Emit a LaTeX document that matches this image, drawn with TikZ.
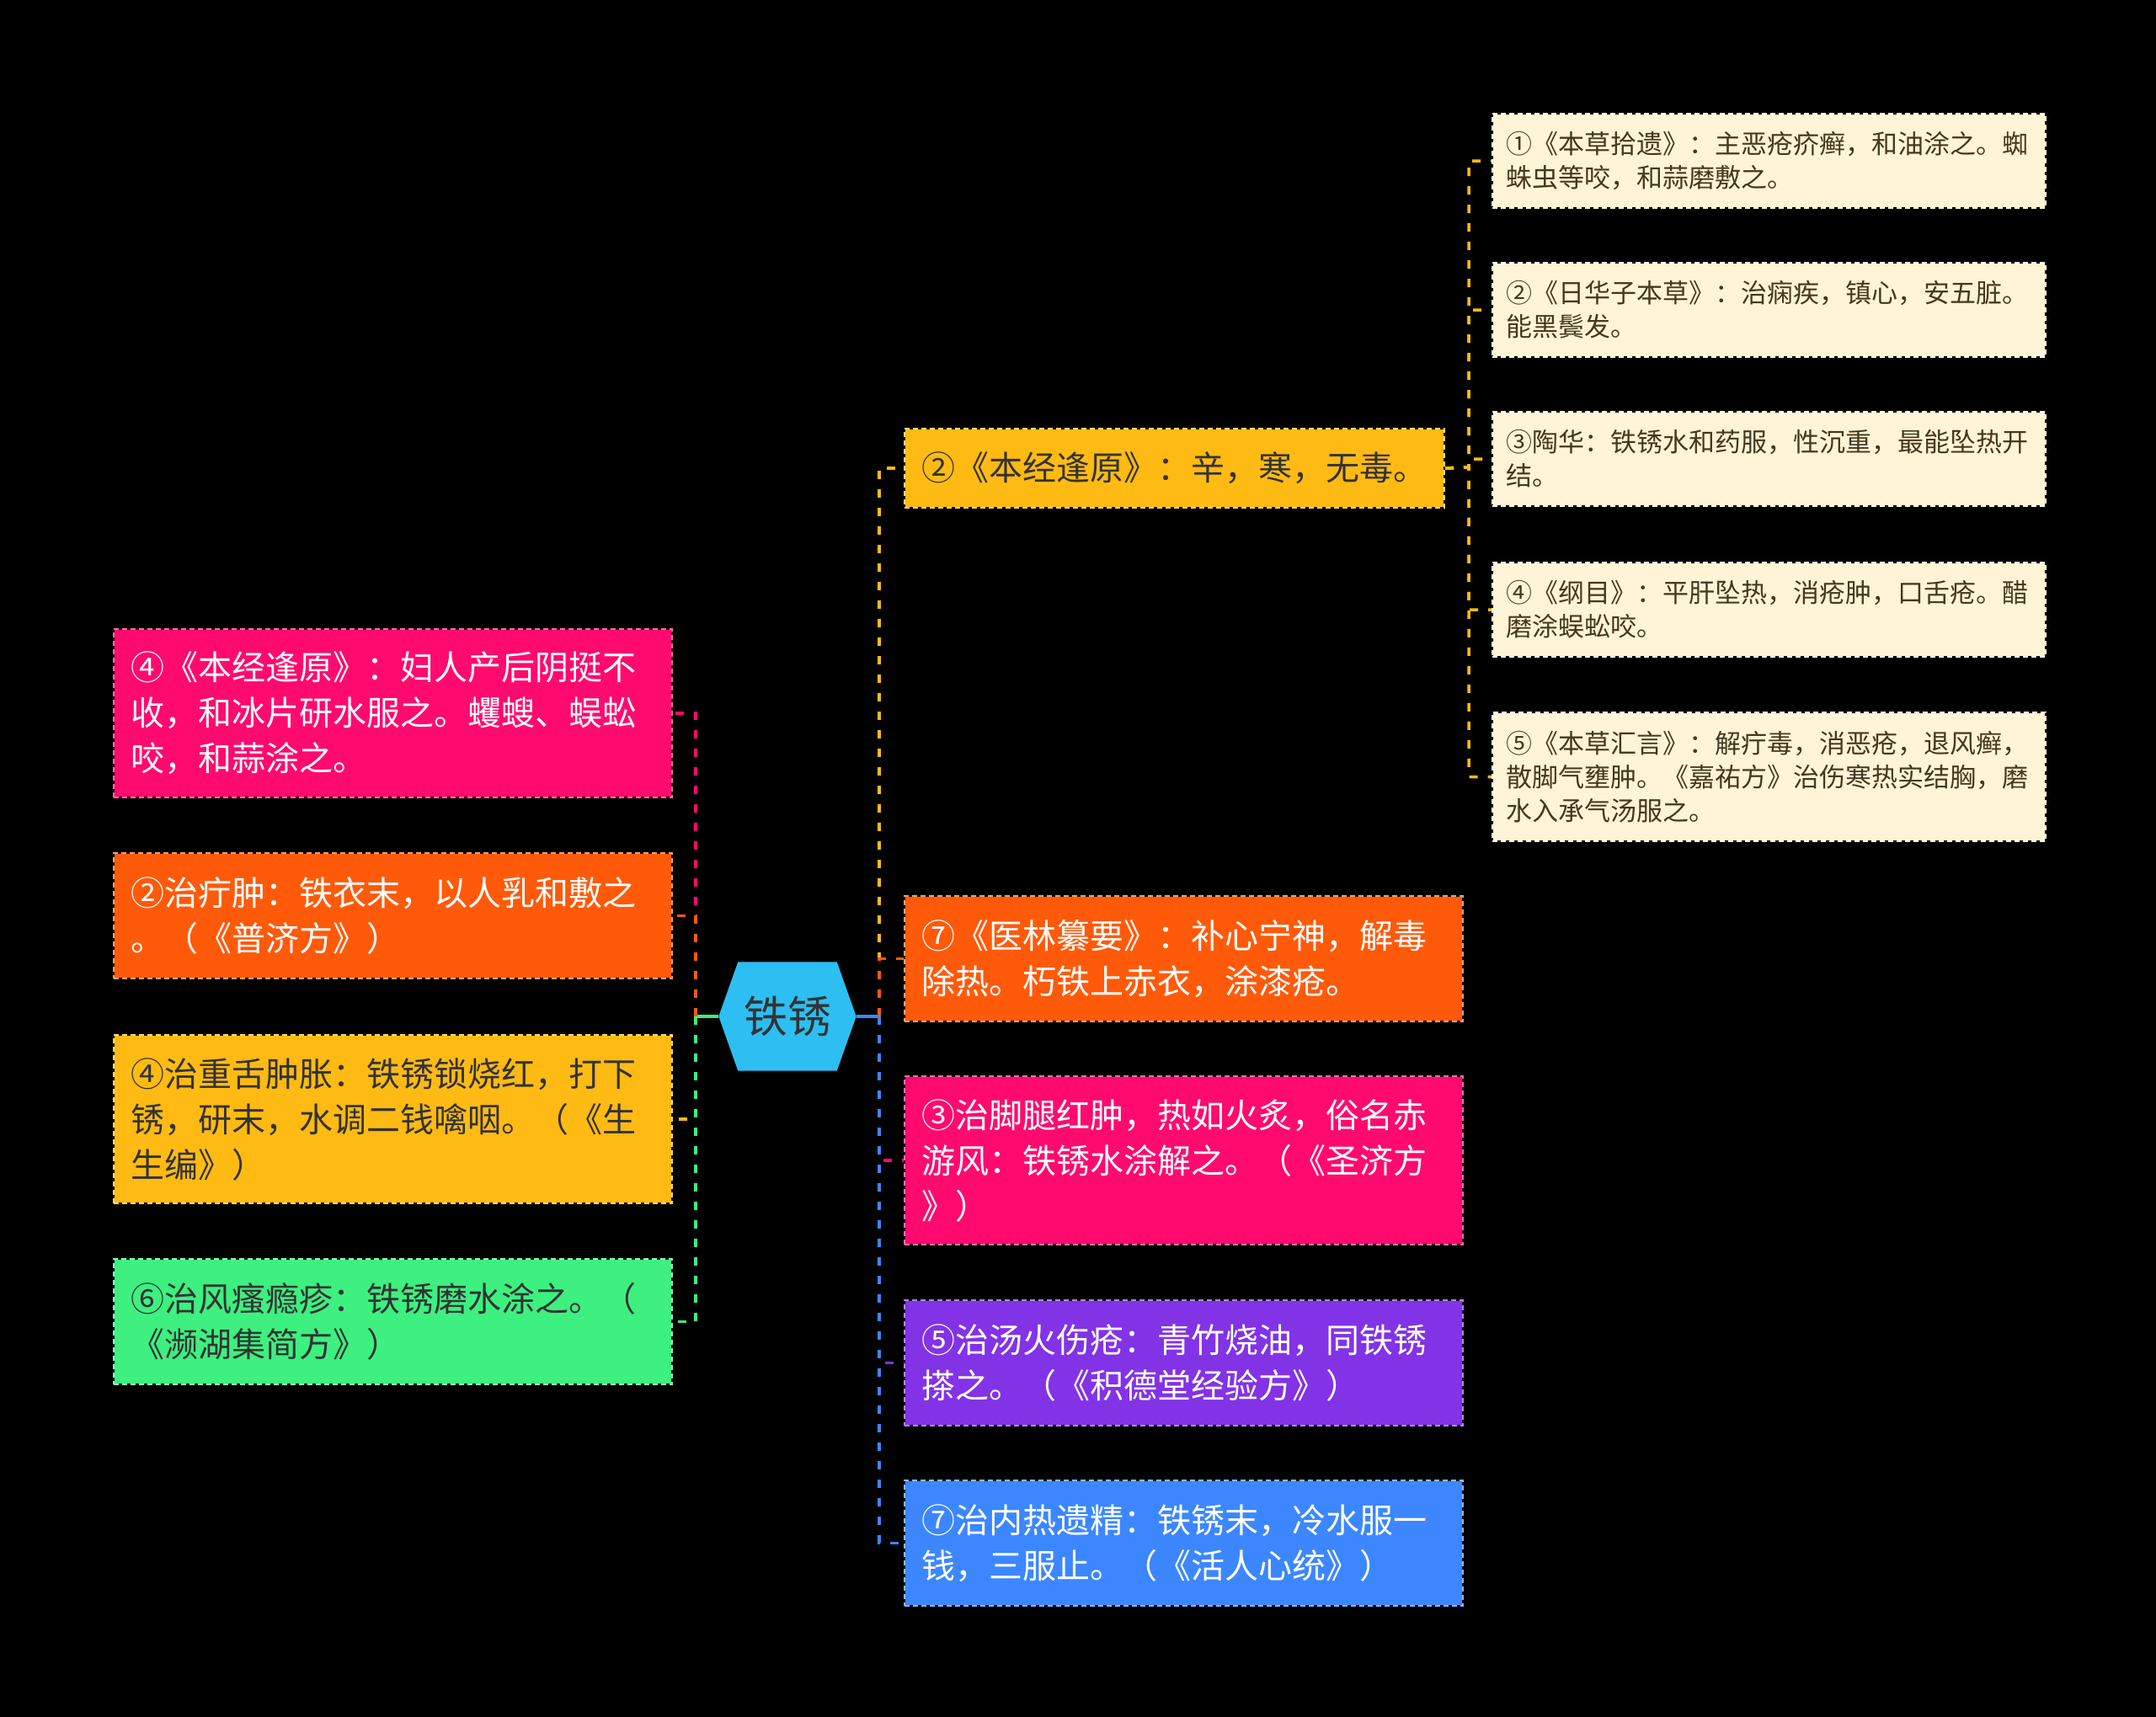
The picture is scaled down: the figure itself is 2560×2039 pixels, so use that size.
\documentclass[tikz,border=0pt]{standalone}
\usepackage{fontspec}
\setmainfont{Noto Sans CJK SC}
\usetikzlibrary{backgrounds}

\definecolor{rosa}{HTML}{FF0A6E}
\definecolor{arancio}{HTML}{FF5A0A}
\definecolor{giallo}{HTML}{FFBA14}
\definecolor{verde}{HTML}{3DF080}
\definecolor{viola}{HTML}{8233E6}
\definecolor{blu}{HTML}{3C87FF}
\definecolor{azzurro}{HTML}{2DBEF2}
\definecolor{crema}{HTML}{FFF4D6}
\definecolor{scuro}{HTML}{333333}
\definecolor{bruno}{HTML}{46381C}

\begin{document}
\begin{tikzpicture}[x=1pt,y=-1pt,
    ramo/.style={rectangle,anchor=north west,fill=#1,draw=black,line width=2pt,
      postaction={draw=#1!60!white,dash pattern=on 6pt off 4pt,line width=2pt},
      inner xsep=20pt,inner ysep=0pt,text width=623pt,align=left,text=white,
      font=\fontsize{40}{54}\selectfont},
    foglia/.style={ramo=crema,inner xsep=16pt,text width=625pt,text=bruno,
      font=\fontsize{31}{40}\selectfont},
    alto1/.style={minimum height=94pt},
    alto2/.style={minimum height=149pt},
    alto3/.style={minimum height=200pt},
    basso2/.style={minimum height=112pt},
    basso3/.style={minimum height=153pt},
    centro/.style={minimum width=163pt,minimum height=129pt,inner sep=0pt,
      text=scuro,font=\fontsize{52}{60}\selectfont},
    linea/.style={draw=#1,line width=3.5pt,dash pattern=on 10pt off 12pt},
    tacco/.style={draw=#1,line width=3.5pt}]

  \useasboundingbox (0,0) rectangle (2560,2039);
  \begin{scope}[on background layer]
    \fill[black] (0,0) rectangle (2560,2039);
  \end{scope}

  \node[centro] (hub) at (935,1207) {铁锈};   % centro
  \begin{scope}[on background layer]
    \fill[azzurro] (hub.west) -- ([xshift=23pt]hub.north west) -- ([xshift=-23pt]hub.north east)
      -- (hub.east) -- ([xshift=-23pt]hub.south east) -- ([xshift=23pt]hub.south west) -- cycle;
  \end{scope}

  \coordinate (jl) at (826,1207);    % snodo a sinistra
  \coordinate (jr) at (1044,1207);   % snodo a destra
  \coordinate (js) at (1744,555);    % snodo delle foglie

  % rami a sinistra
  \node[ramo=rosa,alto3] (l1) at (134,746)
    {④《本经逢原》：妇人产后阴挺不\\收，和冰片研水服之。蠼螋、蜈蚣\\咬，和蒜涂之。};
  \node[ramo=arancio,alto2] (l2) at (134,1012)
    {②治疔肿：铁衣末，以人乳和敷之\\。（《普济方》）};
  \node[ramo=giallo,alto3,text=scuro] (l3) at (134,1228)
    {④治重舌肿胀：铁锈锁烧红，打下\\锈，研末，水调二钱噙咽。（《生\\生编》）};
  \node[ramo=verde,alto2,text=scuro] (l4) at (134,1494)
    {⑥治风瘙瘾疹：铁锈磨水涂之。（\\《濒湖集简方》）};

  % rami a destra
  \node[ramo=giallo,alto1,text=scuro,text width=601pt] (r1) at (1073,508)
    {②《本经逢原》：辛，寒，无毒。};
  \node[ramo=arancio,alto2] (r2) at (1073,1063)
    {⑦《医林纂要》：补心宁神，解毒\\除热。朽铁上赤衣，涂漆疮。};
  \node[ramo=rosa,alto3] (r3) at (1073,1277)
    {③治脚腿红肿，热如火炙，俗名赤\\游风：铁锈水涂解之。（《圣济方\\》）};
  \node[ramo=viola,alto2] (r4) at (1073,1543)
    {⑤治汤火伤疮：青竹烧油，同铁锈\\搽之。（《积德堂经验方》）};
  \node[ramo=blu,alto2] (r5) at (1073,1757)
    {⑦治内热遗精：铁锈末，冷水服一\\钱，三服止。（《活人心统》）};

  % foglie
  \node[foglia,basso2] (s1) at (1771,134)
    {①《本草拾遗》：主恶疮疥癣，和油涂之。蜘\\蛛虫等咬，和蒜磨敷之。};
  \node[foglia,basso2] (s2) at (1771,311)
    {②《日华子本草》：治痫疾，镇心，安五脏。\\能黑鬓发。};
  \node[foglia,basso2] (s3) at (1771,488)
    {③陶华：铁锈水和药服，性沉重，最能坠热开\\结。};
  \node[foglia,basso2] (s4) at (1771,667)
    {④《纲目》：平肝坠热，消疮肿，口舌疮。醋\\磨涂蜈蚣咬。};
  \node[foglia,basso3] (s5) at (1771,845)
    {⑤《本草汇言》：解疔毒，消恶疮，退风癣，\\散脚气壅肿。《嘉祐方》治伤寒热实结胸，磨\\水入承气汤服之。};

  \draw[tacco=verde] (hub.west) -- (jl);
  \draw[tacco=blu]   (hub.east) -- (jr);

  \draw[linea=rosa]    (jl) |- (l1.east);
  \draw[linea=arancio] (jl) |- (l2.east);
  \draw[linea=giallo]  (jl) |- (l3.east);
  \draw[linea=verde]   (jl) |- (l4.east);

  \draw[linea=giallo]  (jr) |- (r1.west);
  \draw[linea=arancio] (jr) |- (r2.west);
  \draw[linea=rosa]    (jr) |- (r3.west);
  \draw[linea=viola]   (jr) |- (r4.west);
  \draw[linea=blu]     (jr) |- (r5.west);

  \draw[linea=giallo] (r1.east) -- (js) |- (s1.west);
  \draw[linea=giallo] (r1.east) -- (js) |- (s2.west);
  \draw[linea=giallo] (r1.east) -- (js) |- (s3.west);
  \draw[linea=giallo] (r1.east) -- (js) |- (s4.west);
  \draw[linea=giallo] (r1.east) -- (js) |- (s5.west);

\end{tikzpicture}
\end{document}
